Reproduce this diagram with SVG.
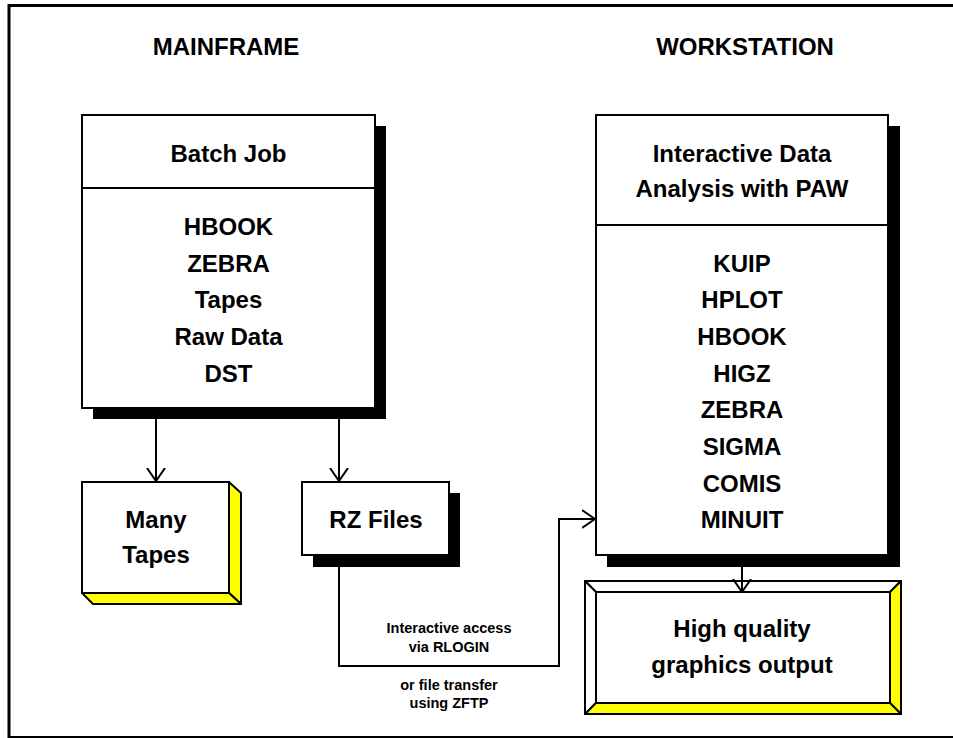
<svg xmlns="http://www.w3.org/2000/svg" width="953" height="738" viewBox="0 0 953 738">
<style>
text{font-family:"Liberation Sans",Arial,Helvetica,sans-serif;font-weight:bold;fill:#000;text-anchor:middle}
.t{font-size:24px}
.s{font-size:14.5px}
.box{fill:#fff;stroke:#000;stroke-width:2}
.sh{fill:#000}
.yel{fill:#ffff00;stroke:#000;stroke-width:2;stroke-linejoin:round}
.wht{fill:#fff;stroke:#000;stroke-width:2;stroke-linejoin:round}
.conn{fill:none;stroke:#000;stroke-width:2}
</style>
<defs>
<marker id="arr" viewBox="0 0 14 20" refX="13" refY="10" markerWidth="14" markerHeight="20" markerUnits="userSpaceOnUse" orient="auto">
<path d="M0,1 L13,10 L0,19" fill="none" stroke="#000" stroke-width="2"/>
</marker>
</defs>
<rect x="0" y="0" width="953" height="738" fill="#fff"/>
<rect x="9" y="5.5" width="960" height="732" fill="none" stroke="#000" stroke-width="3"/>
<g id="headers">
<text class="t" x="226" y="55">MAINFRAME</text>
<text class="t" x="745" y="55">WORKSTATION</text>
</g>
<g id="batch">
<rect class="sh" x="93" y="126" width="293" height="293"/>
<rect class="box" x="82" y="115" width="293" height="293"/>
<line x1="82" y1="188" x2="375" y2="188" stroke="#000" stroke-width="2"/>
<text class="t" x="228.5" y="162">Batch Job</text>
<text class="t" x="228.5" y="235">HBOOK</text>
<text class="t" x="228.5" y="272">ZEBRA</text>
<text class="t" x="228.5" y="308">Tapes</text>
<text class="t" x="228.5" y="345">Raw Data</text>
<text class="t" x="228.5" y="382">DST</text>
</g>
<g id="paw">
<rect class="sh" x="607" y="126" width="293" height="441"/>
<rect class="box" x="596" y="115" width="292" height="440"/>
<line x1="596" y1="225" x2="888" y2="225" stroke="#000" stroke-width="2"/>
<text class="t" x="742" y="162">Interactive Data</text>
<text class="t" x="742" y="197">Analysis with PAW</text>
<text class="t" x="742" y="272">KUIP</text>
<text class="t" x="742" y="308">HPLOT</text>
<text class="t" x="742" y="345">HBOOK</text>
<text class="t" x="742" y="382">HIGZ</text>
<text class="t" x="742" y="418">ZEBRA</text>
<text class="t" x="742" y="455">SIGMA</text>
<text class="t" x="742" y="492">COMIS</text>
<text class="t" x="742" y="528">MINUIT</text>
</g>
<g id="tapes">
<polygon class="yel" points="229,482 241,493 241,604 229,593"/>
<polygon class="yel" points="82,593 229,593 241,604 93,604"/>
<rect class="box" x="82" y="482" width="147" height="111"/>
<text class="t" x="156" y="528">Many</text>
<text class="t" x="156" y="563">Tapes</text>
</g>
<g id="rzfiles">
<rect class="sh" x="313" y="493" width="147" height="74"/>
<rect class="box" x="302" y="482" width="147" height="73"/>
<text class="t" x="376" y="528">RZ Files</text>
</g>
<g id="graphics">
<polygon class="wht" points="585,581 901,581 890,592 596,592"/>
<polygon class="wht" points="585,581 596,592 596,703 585,714"/>
<polygon class="yel" points="901,581 901,714 890,703 890,592"/>
<polygon class="yel" points="585,714 596,703 890,703 901,714"/>
<rect class="box" x="596" y="592" width="294" height="111"/>
<text class="t" x="742" y="637">High quality</text>
<text class="t" x="742" y="673">graphics output</text>
</g>
<g id="connectors">
<line class="conn" x1="156" y1="419" x2="156" y2="481" marker-end="url(#arr)"/>
<line class="conn" x1="339" y1="419" x2="339" y2="481" marker-end="url(#arr)"/>
<path class="conn" d="M339,567 V666 H559 V519 H595" marker-end="url(#arr)"/>
<line class="conn" x1="742" y1="567" x2="742" y2="592" marker-end="url(#arr)"/>
<text class="s" x="449" y="633">Interactive access</text>
<text class="s" x="449" y="652">via RLOGIN</text>
<text class="s" x="449" y="690">or file transfer</text>
<text class="s" x="449" y="708">using ZFTP</text>
</g>
</svg>
